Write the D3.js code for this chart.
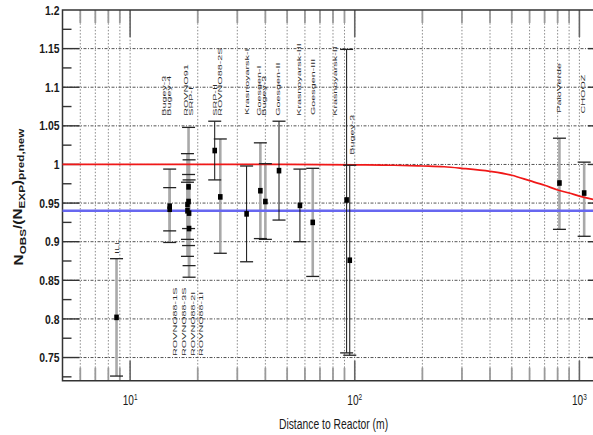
<!DOCTYPE html>
<html><head><meta charset="utf-8">
<script src="https://cdn.jsdelivr.net/npm/d3@7"></script>
<style>
html,body{margin:0;padding:0;background:#fff;}
svg{display:block;font-family:"Liberation Sans",Arial,Helvetica,sans-serif;}
</style></head><body>
<svg id="chart" width="593" height="435"></svg>
<script>
// Short-baseline reactor experiments: baseline (m), observed/predicted ratio, error bar ends
const experiments = ["ILL","Bugey-3","Bugey-4","ROVNO91","SRP-I","ROVNO88-1I","ROVNO88-2I","ROVNO88-1S","ROVNO88-3S","SRP-II","ROVNO88-2S","Krasnoyarsk-I","Goesgen-I","Bugey-3","Goesgen-II","Krasnoyarsk-III","Goesgen-III","Krasnoyarsk-II","Bugey-3","PaloVerde","CHOOZ"];
const distance    = [8.7, 15, 15, 18, 18.2, 18.3, 18.0, 18.2, 18.3, 23.8, 25.2, 33, 38, 40, 46, 57, 65, 92, 95, 815, 1050];
const ratio       = [0.802, 0.946, 0.942, 0.940, 0.952, 0.917, 0.948, 0.971, 0.937, 1.018, 0.958, 0.936, 0.966, 0.952, 0.992, 0.947, 0.925, 0.954, 0.876, 0.976, 0.963];
const errLow      = [0.726, 0.899, 0.914, 0.903, 0.917, 0.854, 0.881, 0.895, 0.869, 0.980, 0.885, 0.874, 0.904, 0.903, 0.928, 0.900, 0.855, 0.756, 0.753, 0.916, 0.907];
const errHigh     = [0.878, 0.994, 0.970, 0.977, 0.987, 0.980, 1.014, 1.048, 1.006, 1.056, 1.033, 0.998, 1.028, 1.001, 1.056, 0.994, 0.995, 1.149, 0.999, 1.034, 1.003];
// error bar family: "A" drawn as wide grey bands, "B" as thin black lines
const errFamily   = ["A","A","A","A","A","A","A","A","A","B","A","B","A","A","B","B","A","B","B","A","A"];

// Oscillation expectation (no-oscillation at short baselines, dropping towards 1 km)
const curveDist  = [5, 20, 50, 100, 150, 200, 250, 300, 400, 500, 600, 700, 800, 900, 1000, 1100, 1300];
const curveRatio = [1.0, 1.0, 1.0, 0.9995, 0.999, 0.998, 0.997, 0.995, 0.991, 0.986, 0.979, 0.973, 0.967, 0.963, 0.959, 0.956, 0.951];
// Mean ratio of all experiments
const meanRatio = 0.94;

// Experiment names written above and below the points
const topLabelLines = [["ILL"],["Bugey-3","Bugey-4"],["ROVNO91","SRP-I"],["SRP-II","ROVNO88-2S"],["Krasnoyarsk-I"],["Goesgen-I","Bugey-3"],["Goesgen-II"],["Krasnoyarsk-III"],["Goesgen-III"],["Krasnoyarsk-II"],["Bugey-3"],["PaloVerde"],["CHOOZ"]];
const topLabelAt    = [8.7, 14.5, 18.1, 24.4, 33, 38.5, 45.5, 56.5, 65, 81.7, 96.8, 811, 1038];
const topLabelFrom  = [0.884, 1.063, 1.063, 1.063, 1.064, 1.063, 1.063, 1.063, 1.064, 1.063, 1.0125, 1.067, 1.066];
const bottomLabelLines = ["ROVNO88-1S","ROVNO88-3S","ROVNO88-2I","ROVNO88-1I"];
const bottomLabelAt    = 18.1;
const bottomLabelFrom  = 0.752;

// Axes
const yTickValues = [0.75, 0.8, 0.85, 0.9, 0.95, 1.0, 1.05, 1.1, 1.15, 1.2];
const yTickLabels = ["0.75","0.8","0.85","0.9","0.95","1","1.05","1.1","1.15","1.2"];
const yMinorValues = [0.725, 0.775, 0.825, 0.875, 0.925, 0.975, 1.025, 1.075, 1.125, 1.175];
const xDecades = [10, 100, 1000];
const xDecadeExp = ["1","2","3"];
const xTitle = "Distance to Reactor (m)";

const svg = d3.select("#chart");
const L = 62.5, R = 605, T = 10, B = 380.7;
const x = d3.scaleLog().domain([5, 1300]).range([L, R]);
const y = d3.scaleLinear().domain([0.72, 1.2]).range([B, T]);

// every log tick inside the domain
const xAll = [];
[1, 10, 100, 1000].forEach(d => { for (let k = 1; k <= 9; k++) { const v = k * d; if (v > 5 && v < 1300) xAll.push(v); } });

// grid
const grid = svg.append("g");
grid.selectAll(".vg").data(xAll).join("line")
  .attr("x1", d => x(d)).attr("x2", d => x(d)).attr("y1", T).attr("y2", B)
  .attr("stroke", "#8a8a8a").attr("stroke-width", 1).attr("stroke-dasharray", "1.5,1.8");
grid.selectAll(".hg").data(yTickValues.filter(v => v < 1.2)).join("line")
  .attr("x1", L).attr("x2", R).attr("y1", d => y(d)).attr("y2", d => y(d))
  .attr("stroke", "#555").attr("stroke-width", 1).attr("stroke-dasharray", "3,1.5,1,1.5");

// ticks
const ticks = svg.append("g");
yTickValues.filter(v => v < 1.2).forEach(v => {
  ticks.append("line").attr("x1", L).attr("x2", L + 17).attr("y1", y(v)).attr("y2", y(v)).attr("stroke", "#333").attr("stroke-width", 1.4);
  ticks.append("line").attr("x1", R - 17).attr("x2", R).attr("y1", y(v)).attr("y2", y(v)).attr("stroke", "#333").attr("stroke-width", 1.4);
});
yMinorValues.forEach(v => {
  ticks.append("line").attr("x1", L).attr("x2", L + 9).attr("y1", y(v)).attr("y2", y(v)).attr("stroke", "#333").attr("stroke-width", 1.4);
  ticks.append("line").attr("x1", R - 9).attr("x2", R).attr("y1", y(v)).attr("y2", y(v)).attr("stroke", "#333").attr("stroke-width", 1.4);
});
xAll.forEach(v => {
  const major = xDecades.includes(v);
  ticks.append("line").attr("x1", x(v)).attr("x2", x(v)).attr("y1", B).attr("y2", B - (major ? 20 : 13))
    .attr("stroke", major ? "#666" : "#9a9a9a").attr("stroke-width", major ? 1.6 : 1.8);
  ticks.append("line").attr("x1", x(v)).attr("x2", x(v)).attr("y1", T).attr("y2", T + (major ? 27 : 13))
    .attr("stroke", major ? "#666" : "#9a9a9a").attr("stroke-width", major ? 1.6 : 1.8);
});

// frame
svg.append("path").attr("d", `M${R},${T}H${L}V${B}H${R}`).attr("fill", "none").attr("stroke", "#333").attr("stroke-width", 1.5);

// error bands (family A) underneath the reference lines
const idx = d3.range(experiments.length);
svg.append("g").selectAll("line").data(idx.filter(i => errFamily[i] === "A")).join("line")
  .attr("x1", i => x(distance[i])).attr("x2", i => x(distance[i]))
  .attr("y1", i => y(errLow[i])).attr("y2", i => y(errHigh[i]))
  .attr("stroke", "#a9a9a9").attr("stroke-width", 2.6);

// reference lines
svg.append("line").attr("x1", L).attr("x2", R).attr("y1", y(meanRatio)).attr("y2", y(meanRatio))
  .attr("stroke", "#6767f0").attr("stroke-width", 2.6);
const curve = d3.line().x((d, i) => x(curveDist[i])).y((d, i) => y(curveRatio[i])).curve(d3.curveMonotoneX);
svg.append("path").datum(curveDist).attr("d", curve).attr("fill", "none")
  .attr("stroke", "#f01818").attr("stroke-width", 1.7);

// thin black error bars (family B)
svg.append("g").selectAll("line").data(idx.filter(i => errFamily[i] === "B")).join("line")
  .attr("x1", i => x(distance[i])).attr("x2", i => x(distance[i]))
  .attr("y1", i => y(errLow[i])).attr("y2", i => y(errHigh[i]))
  .attr("stroke", "#111").attr("stroke-width", 1);

// caps
const caps = svg.append("g").attr("stroke", "#222").attr("stroke-width", 1.3);
idx.forEach(i => {
  [errLow[i], errHigh[i]].forEach(v => {
    caps.append("line").attr("x1", x(distance[i]) - 6.5).attr("x2", x(distance[i]) + 6.5)
      .attr("y1", y(v)).attr("y2", y(v));
  });
});

// points
svg.append("g").selectAll("rect").data(idx).join("rect")
  .attr("x", i => x(distance[i]) - 2.3).attr("y", i => y(ratio[i]) - 2.8)
  .attr("width", 4.6).attr("height", 5.6).attr("fill", "#000");

// rotated experiment labels
const labelFont = 10.8, squash = 0.55;
function rotLabel(px, py, txt) {
  svg.append("text")
    .attr("transform", `translate(${px},${py}) rotate(-90) scale(1,${squash})`)
    .attr("dy", "0.36em").attr("fill", "#2a2a2a")
    .style("font-size", labelFont + "px").text(txt);
}
topLabelLines.forEach((lines, g) => {
  const cx = x(topLabelAt[g]), sy = y(topLabelFrom[g]);
  lines.forEach((t, k) => rotLabel(cx + (k - (lines.length - 1) / 2) * 5, sy, t));
});
bottomLabelLines.forEach((t, k) => {
  rotLabel(x(bottomLabelAt) + (k - (bottomLabelLines.length - 1) / 2) * 8.9, y(bottomLabelFrom), t);
});

// y tick labels
yTickValues.forEach((v, i) => {
  svg.append("text").attr("transform", `translate(59.5,${y(v) + 4.6}) scale(0.8,1)`)
    .attr("text-anchor", "end").attr("fill", "#1a1a1a").style("font-size", "13px").style("font-weight", "bold")
    .text(yTickLabels[i]);
});

// x tick labels (powers of ten)
xDecades.forEach((v, i) => {
  const t = svg.append("text").attr("transform", `translate(${x(v)},405) scale(0.72,1)`)
    .attr("text-anchor", "middle").attr("fill", "#1a1a1a").style("font-size", "14px");
  t.append("tspan").text("10");
  t.append("tspan").attr("dy", "-0.55em").style("font-size", "9px").text(xDecadeExp[i]);
});

// axis titles
svg.append("text").attr("transform", "translate(333.5,429) scale(0.69,1)")
  .attr("text-anchor", "middle").attr("fill", "#1a1a1a").style("font-size", "15px").text(xTitle);

const yt = svg.append("text").attr("text-anchor", "middle").attr("fill", "#1a1a1a")
  .style("font-size", "12.5px").style("font-weight", "bold");
yt.append("tspan").text("N");
yt.append("tspan").attr("dy", "0.3em").style("font-size", "9.5px").text("OBS");
yt.append("tspan").attr("dy", "-0.3em").text("/(N");
yt.append("tspan").attr("dy", "0.3em").style("font-size", "9.5px").text("EXP");
yt.append("tspan").attr("dy", "-0.3em").text(")");
yt.append("tspan").attr("dy", "0.3em").style("font-size", "9.5px").text("pred,new");
const ytLen = yt.node().getComputedTextLength();
yt.attr("transform", `translate(23,197) rotate(-90) scale(${137 / ytLen},1)`);
</script>
</body></html>
